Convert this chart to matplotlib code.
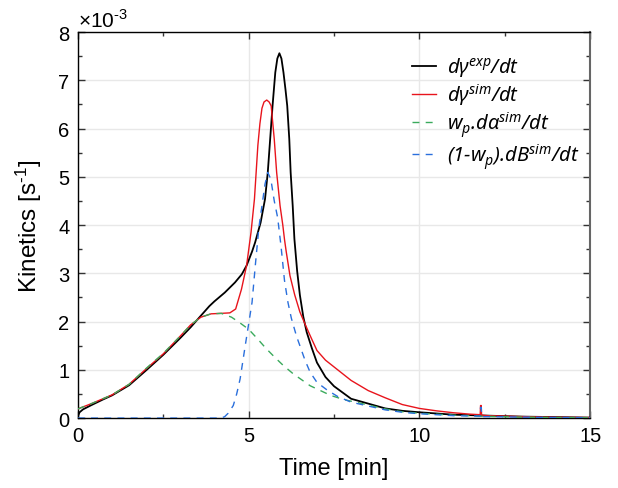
import matplotlib
matplotlib.use("Agg")
import matplotlib.pyplot as plt
from matplotlib.ticker import MultipleLocator

# ---- data (values in units of 1e-3 s^-1) ----
t_exp = [0, 0.05, 0.15, 0.4, 0.75, 1.0, 1.5, 2.0, 2.5, 3.0, 3.3, 3.6, 3.85, 4.0, 4.3,
         4.6, 4.8, 4.94, 5.1, 5.19, 5.35, 5.48, 5.56, 5.63, 5.7, 5.78, 5.84, 5.9, 5.96,
         6.02, 6.08, 6.13, 6.19, 6.23, 6.29, 6.34, 6.42, 6.5, 6.6, 6.7, 6.85, 7.0, 7.25,
         7.5, 8.0, 8.5, 9.0, 9.5, 10, 11, 12, 13, 14, 15]
v_exp = [0.04, 0.12, 0.18, 0.27, 0.39, 0.47, 0.68, 0.99, 1.31, 1.66, 1.88, 2.12, 2.32,
         2.42, 2.6, 2.81, 2.98, 3.16, 3.45, 3.64, 4.05, 4.54, 5.09, 5.78, 6.47, 7.16, 7.45,
         7.56, 7.45, 7.16, 6.8, 6.47, 5.78, 5.09, 4.4, 3.71, 3.05, 2.55, 2.1, 1.78, 1.45,
         1.15, 0.85, 0.66, 0.4, 0.3, 0.2, 0.15, 0.12, 0.07, 0.05, 0.03, 0.02, 0.01]

t_sim = [0, 0.4, 1.0, 1.5, 2.0, 2.5, 3.0, 3.3, 3.6, 3.9, 4.2, 4.45, 4.62, 4.79, 4.94,
         5.07, 5.17, 5.27, 5.33, 5.39, 5.45, 5.53, 5.6, 5.66, 5.75, 5.82,
         5.92, 6.0, 6.05, 6.1, 6.21, 6.35, 6.5, 6.65, 6.8, 7.0, 7.25, 7.5, 8.0, 8.5,
         9.0, 9.5, 10.0, 10.5, 11.0, 11.5, 11.78, 11.79, 11.81, 11.82, 12.0, 13.0,
         14.0, 15.0]
v_sim = [0.19, 0.3, 0.48, 0.7, 1.02, 1.33, 1.7, 1.93, 2.09, 2.16, 2.17, 2.18, 2.26,
         2.67, 3.16, 3.85, 4.54, 5.65, 6.1, 6.42, 6.55, 6.59, 6.55, 6.47,
         5.78, 5.09, 4.4, 4.0, 3.7, 3.45, 2.95, 2.55, 2.2, 1.95, 1.71, 1.4, 1.2, 1.06,
         0.78, 0.57, 0.42, 0.28, 0.2, 0.15, 0.11, 0.08, 0.07, 0.26, 0.26, 0.06, 0.05,
         0.03, 0.015, 0.01]

t_alpha = [0, 0.4, 1.0, 1.5, 2.0, 2.5, 3.0, 3.3, 3.6, 3.9, 4.2, 4.5, 4.75, 5.0, 5.25,
           5.5, 5.75, 6.0, 6.3, 6.6, 6.8, 7.1, 7.4, 7.8, 8.2, 8.5, 9.0, 9.5, 10, 11,
           12, 13, 14, 15]
v_alpha = [0.19, 0.3, 0.48, 0.7, 1.03, 1.34, 1.7, 1.93, 2.09, 2.16, 2.17, 2.09, 1.97,
           1.84, 1.65, 1.45, 1.27, 1.1, 0.92, 0.77, 0.67, 0.57, 0.47, 0.38, 0.32, 0.27,
           0.19, 0.13, 0.1, 0.06, 0.035, 0.02, 0.01, 0.005]

t_B = [0, 4.2, 4.3, 4.4, 4.55, 4.65, 4.75, 4.9, 5.0, 5.1, 5.2, 5.3, 5.4, 5.48,
       5.56, 5.65, 5.75, 5.85, 5.95, 6.05, 6.15, 6.25, 6.4, 6.5, 6.65, 6.8, 7.0, 7.3,
       7.6, 8.0, 8.5, 9.0, 9.5, 10, 11, 11.78, 11.79, 11.81, 11.82, 12, 13, 14, 15]
v_B = [0, 0, 0.03, 0.1, 0.26, 0.5, 0.81, 1.5, 1.95, 2.4, 3.2, 3.95, 4.45, 4.85, 5.09,
       4.95, 4.5, 4.15, 3.55, 2.85, 2.4, 2.07, 1.7, 1.5, 1.2, 0.95, 0.74, 0.58, 0.45,
       0.33, 0.25, 0.17, 0.12, 0.09, 0.05, 0.04, 0.22, 0.22, 0.03, 0.03, 0.02, 0.01, 0.005]

labels = ['dγ$^{exp}$/dt', 'dγ$^{sim}$/dt', 'w$_p$.dα$^{sim}$/dt', '(1-w$_p$).dB$^{sim}$/dt']
xticks = [0, 5, 10, 15]
yticks = [0, 1, 2, 3, 4, 5, 6, 7, 8]

plt.rcParams['font.family'] = ['Liberation Sans', 'DejaVu Sans']
plt.rcParams['mathtext.fontset'] = 'custom'
plt.rcParams['mathtext.rm'] = 'Liberation Sans'
plt.rcParams['mathtext.it'] = 'Noto Sans:italic'

fig = plt.figure(figsize=(6.18, 4.89), dpi=100)
ax = fig.add_axes([0.126, 0.143, 0.829, 0.7895])

ax.plot(t_exp, v_exp, color='black', lw=1.3, label=labels[0], zorder=3)
ax.plot(t_sim, v_sim, color='#e8141c', lw=1.0, label=labels[1], zorder=4)
ax.plot(t_alpha, v_alpha, color='#3aaa5c', lw=1.0, ls=(0, (5, 4.5)), label=labels[2], zorder=5)
ax.plot(t_B, v_B, color='#2a6fdc', lw=1.0, ls=(0, (5, 4.5)), label=labels[3], zorder=6)

ax.set_xlim(0, 15)
ax.set_ylim(0, 8)
ax.set_xticks(xticks)
ax.set_yticks(yticks)
ax.xaxis.set_minor_locator(MultipleLocator(2.5))
ax.yaxis.set_minor_locator(MultipleLocator(0.5))
ax.tick_params(which='both', direction='in', top=True, right=True, labelsize=14.5, color='#333333')
ax.tick_params(which='major', length=5, width=1)
ax.tick_params(which='minor', length=3, width=1)
ax.tick_params(axis='x', which='major', pad=6)
ax.tick_params(axis='y', which='major', pad=6)
ax.grid(True, which='major', color='#e8e8e8', lw=1)
ax.set_axisbelow(True)
for s in ['left', 'bottom', 'top']:
    ax.spines[s].set_color('black')
    ax.spines[s].set_linewidth(1.0)
ax.spines['right'].set_color('#666666')
ax.spines['right'].set_linewidth(1.5)

ax.set_xlabel('Time [min]', fontsize=17, labelpad=8)
ax.set_ylabel('Kinetics [s$^{\\text{-}1}$]', fontsize=17.5, labelpad=10)
ax.text(0.0, 1.004, '×10$^{\\text{-}3}$', transform=ax.transAxes, fontsize=15,
        ha='left', va='bottom')

leg = ax.legend(loc='upper left', bbox_to_anchor=(0.652, 0.94), frameon=False,
                prop={'family': 'Noto Sans', 'style': 'italic', 'size': 14.5},
                handlelength=1.2, handletextpad=0.55, labelspacing=0.1,
                borderpad=0, borderaxespad=0)

fig.savefig('out.png', dpi=100)
